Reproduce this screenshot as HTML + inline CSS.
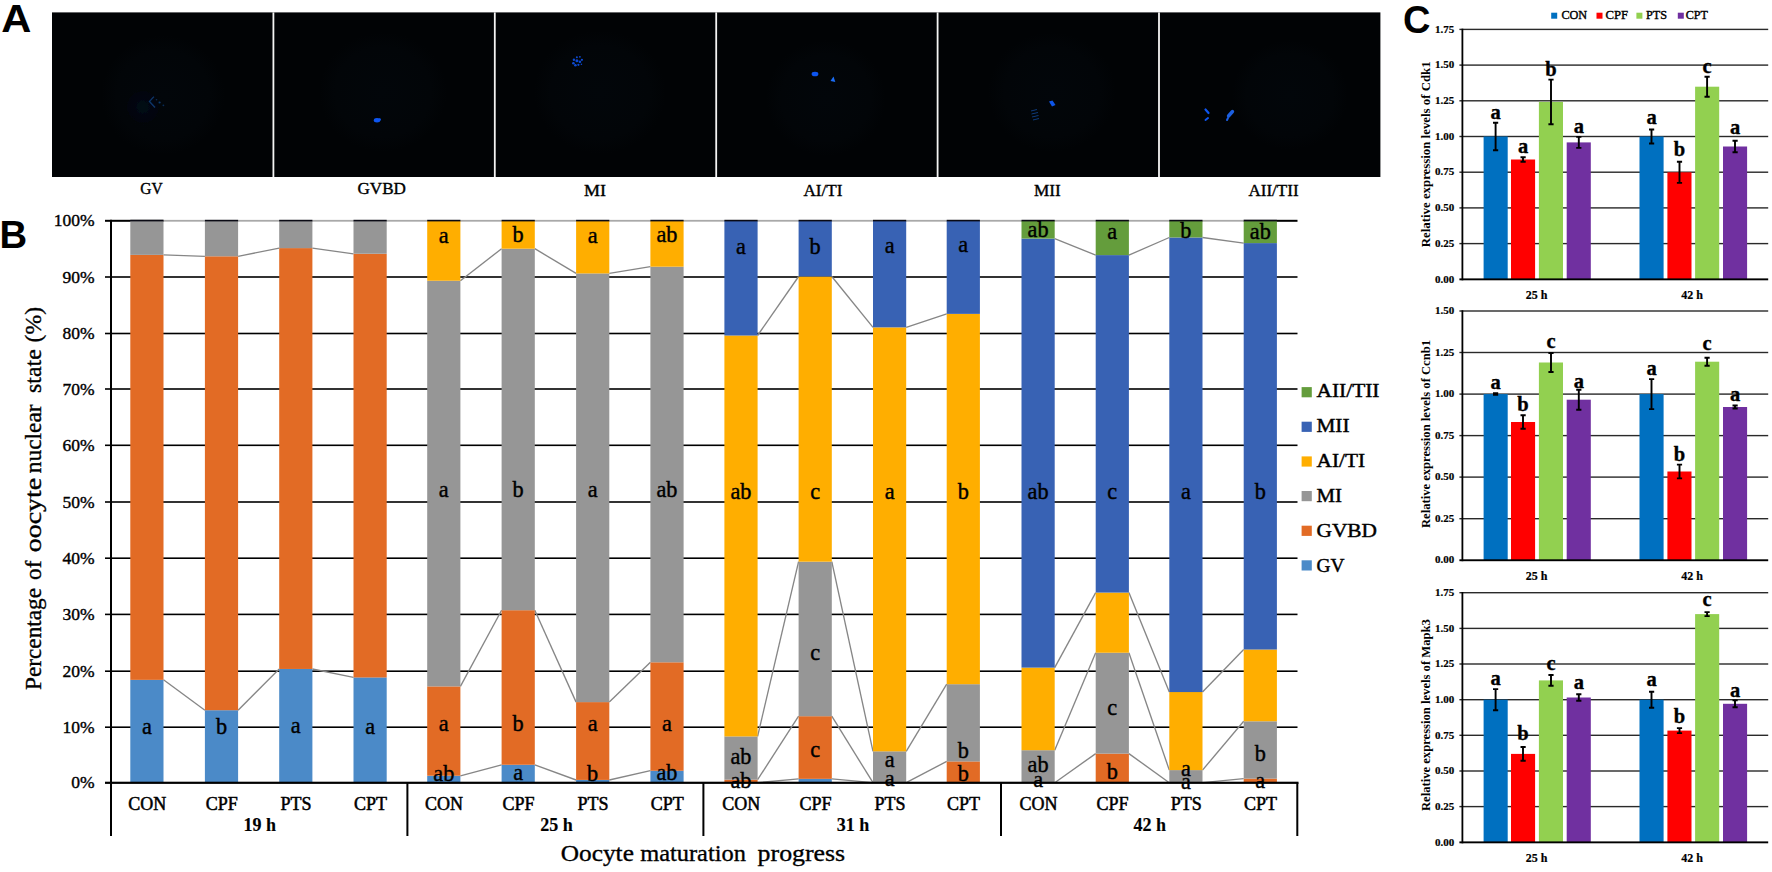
<!DOCTYPE html>
<html><head><meta charset="utf-8"><title>Figure</title>
<style>
html,body{margin:0;padding:0;background:#fff;}
svg{display:block;}
.se{font-family:"Liberation Serif", serif;fill:#000;}
.sa{font-family:"Liberation Sans", sans-serif;fill:#000;}
</style></head><body>
<svg width="1772" height="872" viewBox="0 0 1772 872">
<defs>
<radialGradient id="cell"><stop offset="0" stop-color="#02060a"/><stop offset="0.75" stop-color="#020508"/><stop offset="1" stop-color="#010305"/></radialGradient>
<radialGradient id="glow"><stop offset="0" stop-color="#06142a" stop-opacity="0.4"/><stop offset="1" stop-color="#06142a" stop-opacity="0"/></radialGradient>
<filter id="blur1" x="-20%" y="-20%" width="140%" height="140%"><feGaussianBlur stdDeviation="0.5"/></filter>
</defs>
<rect width="1772" height="872" fill="#fff"/>
<rect x="52" y="12.4" width="1328.4" height="164.6" fill="#010305"/>
<ellipse cx="163" cy="95" rx="62" ry="60" fill="url(#cell)"/>
<ellipse cx="383" cy="92" rx="64" ry="60" fill="url(#cell)"/>
<ellipse cx="600" cy="92" rx="66" ry="62" fill="url(#cell)"/>
<ellipse cx="826" cy="98" rx="60" ry="58" fill="url(#cell)"/>
<ellipse cx="1052" cy="92" rx="64" ry="60" fill="url(#cell)"/>
<ellipse cx="1290" cy="95" rx="58" ry="55" fill="url(#cell)"/>
<rect x="272.5" y="12.4" width="1.8" height="164.6" fill="#f4f4f4"/>
<rect x="493.9" y="12.4" width="1.8" height="164.6" fill="#f4f4f4"/>
<rect x="715.3" y="12.4" width="1.8" height="164.6" fill="#f4f4f4"/>
<rect x="936.7" y="12.4" width="1.8" height="164.6" fill="#f4f4f4"/>
<rect x="1158.1" y="12.4" width="1.8" height="164.6" fill="#f4f4f4"/>
<g filter="url(#blur1)">
<circle cx="143" cy="107" r="20" fill="url(#glow)"/>
<path d="M153.9 96.6 L149.5 101.4 L155 107.5" fill="none" stroke="#0b3468" stroke-width="1.4" filter="url(#blur1)"/>
<circle cx="159.6" cy="102.5" r="1.1" fill="#0d386e"/><circle cx="163.4" cy="105.3" r="0.9" fill="#0a2c58"/><circle cx="156.5" cy="99.8" r="0.8" fill="#0a2c58"/>
<ellipse cx="377" cy="120.3" rx="3.2" ry="2.2" fill="#0d55f0"/>
<circle cx="379.6" cy="119.6" r="1.3" fill="#0d55f0"/>
<circle cx="573.9" cy="59.8" r="1.2" fill="#0f4ad2"/>
<circle cx="576.9" cy="57.3" r="1.0" fill="#0f4ad2"/>
<circle cx="579.9" cy="56.8" r="0.9" fill="#0f4ad2"/>
<circle cx="581.9" cy="59.8" r="1.1" fill="#0f4ad2"/>
<circle cx="573.4" cy="63.3" r="1.3" fill="#0f4ad2"/>
<circle cx="576.9" cy="60.8" r="1.5" fill="#0f4ad2"/>
<circle cx="579.9" cy="61.8" r="1.3" fill="#0f4ad2"/>
<circle cx="575.4" cy="65.3" r="1.3" fill="#0f4ad2"/>
<circle cx="578.4" cy="64.8" r="1.1" fill="#0f4ad2"/>
<circle cx="581.4" cy="64.3" r="0.8" fill="#0f4ad2"/>
<ellipse cx="815" cy="74" rx="3.4" ry="2.3" fill="#0d55f0"/>
<path d="M830.5 81 l3 -4.5 l1.8 5.5 z" fill="#1a6cf5"/>
<path d="M1049 101.5 l3.5 -1 l3 4.5 l-3.5 1.5 z" fill="#0f55e8"/>
<path d="M1031 111 l6 -1.5 M1031.5 114 l6.5 -1.5 M1032 117 l6.5 -1.5 M1033 120 l6 -1.5" stroke="#0f3a7a" stroke-width="1" fill="none"/>
<path d="M1205.5 109.5 l3 3.5" stroke="#0d55f0" stroke-width="2.2" stroke-linecap="round"/>
<path d="M1205.5 120 l2.5 -2" stroke="#0d55f0" stroke-width="2" stroke-linecap="round"/>
<path d="M1228.5 116 l4 -4.5" stroke="#1b5fe0" stroke-width="3.4" stroke-linecap="round"/>
<path d="M1227 120 l1 -2" stroke="#1b5fe0" stroke-width="2" stroke-linecap="round"/>
</g>
<text x="151.4" y="194.0" font-size="17.5" text-anchor="middle" class="se" stroke="#000" stroke-width="0.4" textLength="22.4" lengthAdjust="spacingAndGlyphs">GV</text>
<text x="381.7" y="194.0" font-size="17.5" text-anchor="middle" class="se" stroke="#000" stroke-width="0.4" textLength="48.5" lengthAdjust="spacingAndGlyphs">GVBD</text>
<text x="595.0" y="196.0" font-size="17.5" text-anchor="middle" class="se" stroke="#000" stroke-width="0.4" textLength="22.0" lengthAdjust="spacingAndGlyphs">MI</text>
<text x="823.0" y="196.0" font-size="17.5" text-anchor="middle" class="se" stroke="#000" stroke-width="0.4" textLength="39.0" lengthAdjust="spacingAndGlyphs">AI/TI</text>
<text x="1047.3" y="195.8" font-size="17.5" text-anchor="middle" class="se" stroke="#000" stroke-width="0.4" textLength="26.8" lengthAdjust="spacingAndGlyphs">MII</text>
<text x="1273.5" y="196.2" font-size="17.5" text-anchor="middle" class="se" stroke="#000" stroke-width="0.4" textLength="50.2" lengthAdjust="spacingAndGlyphs">AII/TII</text>
<text transform="translate(1.2,32.4) scale(1.07,1)" font-size="39" font-weight="bold" class="sa">A</text>
<text transform="translate(-0.6,248.2) scale(0.98,1)" font-size="39" font-weight="bold" class="sa">B</text>
<text transform="translate(1402.9,33) scale(1,1)" font-size="38" font-weight="bold" class="sa">C</text>
<rect x="105.0" y="726.4" width="1192.5" height="1.6" fill="#000"/>
<rect x="105.0" y="670.4" width="1192.5" height="1.6" fill="#000"/>
<rect x="105.0" y="613.6" width="1192.5" height="1.6" fill="#000"/>
<rect x="105.0" y="557.4" width="1192.5" height="1.6" fill="#000"/>
<rect x="105.0" y="501.2" width="1192.5" height="1.6" fill="#000"/>
<rect x="105.0" y="444.5" width="1192.5" height="1.6" fill="#000"/>
<rect x="105.0" y="388.2" width="1192.5" height="1.6" fill="#000"/>
<rect x="105.0" y="332.7" width="1192.5" height="1.6" fill="#000"/>
<rect x="105.0" y="276.2" width="1192.5" height="1.6" fill="#000"/>
<rect x="105.0" y="219.8" width="1192.5" height="2" fill="#000"/>
<rect x="163.5" y="219.2" width="1080.2" height="3.2" fill="#fff"/>
<rect x="163.5" y="220.1" width="1080.2" height="1.5" fill="#a0a0a0"/>
<line x1="163.5" y1="679.8" x2="204.9" y2="710.2" stroke="#868686" stroke-width="1.35"/>
<line x1="163.5" y1="254.9" x2="204.9" y2="256.3" stroke="#868686" stroke-width="1.35"/>
<line x1="238.1" y1="710.2" x2="279.2" y2="669.0" stroke="#868686" stroke-width="1.35"/>
<line x1="238.1" y1="256.3" x2="279.2" y2="248.1" stroke="#868686" stroke-width="1.35"/>
<line x1="312.4" y1="669.0" x2="353.5" y2="677.4" stroke="#868686" stroke-width="1.35"/>
<line x1="312.4" y1="248.1" x2="353.5" y2="253.8" stroke="#868686" stroke-width="1.35"/>
<line x1="460.4" y1="775.8" x2="501.6" y2="764.8" stroke="#868686" stroke-width="1.35"/>
<line x1="460.4" y1="686.4" x2="501.6" y2="610.2" stroke="#868686" stroke-width="1.35"/>
<line x1="460.4" y1="280.7" x2="501.6" y2="248.7" stroke="#868686" stroke-width="1.35"/>
<line x1="534.8" y1="764.8" x2="576.1" y2="780.0" stroke="#868686" stroke-width="1.35"/>
<line x1="534.8" y1="610.2" x2="576.1" y2="702.1" stroke="#868686" stroke-width="1.35"/>
<line x1="534.8" y1="248.7" x2="576.1" y2="273.4" stroke="#868686" stroke-width="1.35"/>
<line x1="609.3" y1="780.0" x2="650.4" y2="770.7" stroke="#868686" stroke-width="1.35"/>
<line x1="609.3" y1="702.1" x2="650.4" y2="662.3" stroke="#868686" stroke-width="1.35"/>
<line x1="609.3" y1="273.4" x2="650.4" y2="266.7" stroke="#868686" stroke-width="1.35"/>
<line x1="757.6" y1="782.7" x2="798.6" y2="778.8" stroke="#868686" stroke-width="1.35"/>
<line x1="757.6" y1="779.7" x2="798.6" y2="716.2" stroke="#868686" stroke-width="1.35"/>
<line x1="757.6" y1="736.4" x2="798.6" y2="561.7" stroke="#868686" stroke-width="1.35"/>
<line x1="757.6" y1="335.5" x2="798.6" y2="276.5" stroke="#868686" stroke-width="1.35"/>
<line x1="831.8" y1="778.8" x2="873.0" y2="782.7" stroke="#868686" stroke-width="1.35"/>
<line x1="831.8" y1="716.2" x2="873.0" y2="782.7" stroke="#868686" stroke-width="1.35"/>
<line x1="831.8" y1="561.7" x2="873.0" y2="751.3" stroke="#868686" stroke-width="1.35"/>
<line x1="831.8" y1="276.5" x2="873.0" y2="327.4" stroke="#868686" stroke-width="1.35"/>
<line x1="906.2" y1="782.7" x2="946.7" y2="761.4" stroke="#868686" stroke-width="1.35"/>
<line x1="906.2" y1="751.3" x2="946.7" y2="684.2" stroke="#868686" stroke-width="1.35"/>
<line x1="906.2" y1="327.4" x2="946.7" y2="313.9" stroke="#868686" stroke-width="1.35"/>
<line x1="1054.7" y1="782.7" x2="1095.7" y2="753.6" stroke="#868686" stroke-width="1.35"/>
<line x1="1054.7" y1="750.2" x2="1095.7" y2="652.7" stroke="#868686" stroke-width="1.35"/>
<line x1="1054.7" y1="667.6" x2="1095.7" y2="592.6" stroke="#868686" stroke-width="1.35"/>
<line x1="1054.7" y1="238.6" x2="1095.7" y2="255.1" stroke="#868686" stroke-width="1.35"/>
<line x1="1128.9" y1="753.6" x2="1169.3" y2="782.7" stroke="#868686" stroke-width="1.35"/>
<line x1="1128.9" y1="652.7" x2="1169.3" y2="770.1" stroke="#868686" stroke-width="1.35"/>
<line x1="1128.9" y1="592.6" x2="1169.3" y2="692.0" stroke="#868686" stroke-width="1.35"/>
<line x1="1128.9" y1="255.1" x2="1169.3" y2="237.5" stroke="#868686" stroke-width="1.35"/>
<line x1="1202.5" y1="782.7" x2="1243.7" y2="778.6" stroke="#868686" stroke-width="1.35"/>
<line x1="1202.5" y1="770.1" x2="1243.7" y2="721.3" stroke="#868686" stroke-width="1.35"/>
<line x1="1202.5" y1="692.0" x2="1243.7" y2="649.5" stroke="#868686" stroke-width="1.35"/>
<line x1="1202.5" y1="237.5" x2="1243.7" y2="243.1" stroke="#868686" stroke-width="1.35"/>
<rect x="130.3" y="679.8" width="33.2" height="102.86" fill="#4b8ac8"/>
<rect x="130.3" y="254.9" width="33.2" height="424.96" fill="#e26b25"/>
<rect x="130.3" y="220.8" width="33.2" height="34.08" fill="#969696"/>
<rect x="130.3" y="219.8" width="33.2" height="1.6" fill="#0a0a14"/>
<rect x="204.9" y="710.2" width="33.2" height="72.52" fill="#4b8ac8"/>
<rect x="204.9" y="256.3" width="33.2" height="453.90" fill="#e26b25"/>
<rect x="204.9" y="220.8" width="33.2" height="35.48" fill="#969696"/>
<rect x="204.9" y="219.8" width="33.2" height="1.6" fill="#0a0a14"/>
<rect x="279.2" y="669.0" width="33.2" height="113.70" fill="#4b8ac8"/>
<rect x="279.2" y="248.1" width="33.2" height="420.86" fill="#e26b25"/>
<rect x="279.2" y="220.8" width="33.2" height="27.33" fill="#969696"/>
<rect x="279.2" y="219.8" width="33.2" height="1.6" fill="#0a0a14"/>
<rect x="353.5" y="677.4" width="33.2" height="105.28" fill="#4b8ac8"/>
<rect x="353.5" y="253.8" width="33.2" height="423.67" fill="#e26b25"/>
<rect x="353.5" y="220.8" width="33.2" height="32.95" fill="#969696"/>
<rect x="353.5" y="219.8" width="33.2" height="1.6" fill="#0a0a14"/>
<rect x="427.2" y="775.8" width="33.2" height="6.94" fill="#4b8ac8"/>
<rect x="427.2" y="686.4" width="33.2" height="89.34" fill="#e26b25"/>
<rect x="427.2" y="280.7" width="33.2" height="405.69" fill="#969696"/>
<rect x="427.2" y="220.8" width="33.2" height="59.92" fill="#ffae00"/>
<rect x="427.2" y="219.8" width="33.2" height="1.6" fill="#0a0a14"/>
<rect x="501.6" y="764.8" width="33.2" height="17.90" fill="#4b8ac8"/>
<rect x="501.6" y="610.2" width="33.2" height="154.58" fill="#e26b25"/>
<rect x="501.6" y="248.7" width="33.2" height="361.53" fill="#969696"/>
<rect x="501.6" y="220.8" width="33.2" height="27.90" fill="#ffae00"/>
<rect x="501.6" y="219.8" width="33.2" height="1.6" fill="#0a0a14"/>
<rect x="576.1" y="780.0" width="33.2" height="2.73" fill="#4b8ac8"/>
<rect x="576.1" y="702.1" width="33.2" height="77.82" fill="#e26b25"/>
<rect x="576.1" y="273.4" width="33.2" height="428.73" fill="#969696"/>
<rect x="576.1" y="220.8" width="33.2" height="52.62" fill="#ffae00"/>
<rect x="576.1" y="219.8" width="33.2" height="1.6" fill="#0a0a14"/>
<rect x="650.4" y="770.7" width="33.2" height="12.00" fill="#4b8ac8"/>
<rect x="650.4" y="662.3" width="33.2" height="108.45" fill="#e26b25"/>
<rect x="650.4" y="266.7" width="33.2" height="395.58" fill="#969696"/>
<rect x="650.4" y="220.8" width="33.2" height="45.88" fill="#ffae00"/>
<rect x="650.4" y="219.8" width="33.2" height="1.6" fill="#0a0a14"/>
<rect x="724.4" y="779.7" width="33.2" height="3.01" fill="#e26b25"/>
<rect x="724.4" y="736.4" width="33.2" height="43.27" fill="#969696"/>
<rect x="724.4" y="335.5" width="33.2" height="400.92" fill="#ffae00"/>
<rect x="724.4" y="220.8" width="33.2" height="114.71" fill="#3862b4"/>
<rect x="724.4" y="219.8" width="33.2" height="1.6" fill="#0a0a14"/>
<rect x="798.6" y="778.8" width="33.2" height="3.85" fill="#4b8ac8"/>
<rect x="798.6" y="716.2" width="33.2" height="62.65" fill="#e26b25"/>
<rect x="798.6" y="561.7" width="33.2" height="154.52" fill="#969696"/>
<rect x="798.6" y="276.5" width="33.2" height="285.16" fill="#ffae00"/>
<rect x="798.6" y="220.8" width="33.2" height="55.71" fill="#3862b4"/>
<rect x="798.6" y="219.8" width="33.2" height="1.6" fill="#0a0a14"/>
<rect x="873.0" y="751.3" width="33.2" height="31.39" fill="#969696"/>
<rect x="873.0" y="327.4" width="33.2" height="423.95" fill="#ffae00"/>
<rect x="873.0" y="220.8" width="33.2" height="106.56" fill="#3862b4"/>
<rect x="873.0" y="219.8" width="33.2" height="1.6" fill="#0a0a14"/>
<rect x="946.7" y="761.4" width="33.2" height="21.27" fill="#e26b25"/>
<rect x="946.7" y="684.2" width="33.2" height="77.26" fill="#969696"/>
<rect x="946.7" y="313.9" width="33.2" height="370.29" fill="#ffae00"/>
<rect x="946.7" y="220.8" width="33.2" height="93.08" fill="#3862b4"/>
<rect x="946.7" y="219.8" width="33.2" height="1.6" fill="#0a0a14"/>
<rect x="1021.5" y="750.2" width="33.2" height="32.51" fill="#969696"/>
<rect x="1021.5" y="667.6" width="33.2" height="82.60" fill="#ffae00"/>
<rect x="1021.5" y="238.6" width="33.2" height="429.01" fill="#3862b4"/>
<rect x="1021.5" y="220.8" width="33.2" height="17.78" fill="#649d3c"/>
<rect x="1021.5" y="219.8" width="33.2" height="1.6" fill="#0a0a14"/>
<rect x="1095.7" y="753.6" width="33.2" height="29.08" fill="#e26b25"/>
<rect x="1095.7" y="652.7" width="33.2" height="100.92" fill="#969696"/>
<rect x="1095.7" y="592.6" width="33.2" height="60.12" fill="#ffae00"/>
<rect x="1095.7" y="255.1" width="33.2" height="337.48" fill="#3862b4"/>
<rect x="1095.7" y="220.8" width="33.2" height="34.30" fill="#649d3c"/>
<rect x="1095.7" y="219.8" width="33.2" height="1.6" fill="#0a0a14"/>
<rect x="1169.3" y="770.1" width="33.2" height="12.56" fill="#969696"/>
<rect x="1169.3" y="692.0" width="33.2" height="78.10" fill="#ffae00"/>
<rect x="1169.3" y="237.5" width="33.2" height="454.58" fill="#3862b4"/>
<rect x="1169.3" y="220.8" width="33.2" height="16.66" fill="#649d3c"/>
<rect x="1169.3" y="219.8" width="33.2" height="1.6" fill="#0a0a14"/>
<rect x="1243.7" y="778.6" width="33.2" height="4.13" fill="#e26b25"/>
<rect x="1243.7" y="721.3" width="33.2" height="57.31" fill="#969696"/>
<rect x="1243.7" y="649.5" width="33.2" height="71.75" fill="#ffae00"/>
<rect x="1243.7" y="243.1" width="33.2" height="406.42" fill="#3862b4"/>
<rect x="1243.7" y="220.8" width="33.2" height="22.28" fill="#649d3c"/>
<rect x="1243.7" y="219.8" width="33.2" height="1.6" fill="#0a0a14"/>
<text x="94.5" y="788.3" font-size="17.5" text-anchor="end" class="se" stroke="#000" stroke-width="0.4">0%</text>
<text x="94.5" y="732.8" font-size="17.5" text-anchor="end" class="se" stroke="#000" stroke-width="0.4">10%</text>
<text x="94.5" y="676.8" font-size="17.5" text-anchor="end" class="se" stroke="#000" stroke-width="0.4">20%</text>
<text x="94.5" y="620.0" font-size="17.5" text-anchor="end" class="se" stroke="#000" stroke-width="0.4">30%</text>
<text x="94.5" y="563.8" font-size="17.5" text-anchor="end" class="se" stroke="#000" stroke-width="0.4">40%</text>
<text x="94.5" y="507.6" font-size="17.5" text-anchor="end" class="se" stroke="#000" stroke-width="0.4">50%</text>
<text x="94.5" y="450.9" font-size="17.5" text-anchor="end" class="se" stroke="#000" stroke-width="0.4">60%</text>
<text x="94.5" y="394.6" font-size="17.5" text-anchor="end" class="se" stroke="#000" stroke-width="0.4">70%</text>
<text x="94.5" y="339.1" font-size="17.5" text-anchor="end" class="se" stroke="#000" stroke-width="0.4">80%</text>
<text x="94.5" y="282.6" font-size="17.5" text-anchor="end" class="se" stroke="#000" stroke-width="0.4">90%</text>
<text x="94.5" y="226.4" font-size="17.5" text-anchor="end" class="se" stroke="#000" stroke-width="0.4">100%</text>
<text x="147.2" y="809.5" font-size="18" text-anchor="middle" class="se" stroke="#000" stroke-width="0.5">CON</text>
<text x="221.8" y="809.5" font-size="18" text-anchor="middle" class="se" stroke="#000" stroke-width="0.5">CPF</text>
<text x="296.1" y="809.5" font-size="18" text-anchor="middle" class="se" stroke="#000" stroke-width="0.5">PTS</text>
<text x="370.4" y="809.5" font-size="18" text-anchor="middle" class="se" stroke="#000" stroke-width="0.5">CPT</text>
<text x="444.1" y="809.5" font-size="18" text-anchor="middle" class="se" stroke="#000" stroke-width="0.5">CON</text>
<text x="518.5" y="809.5" font-size="18" text-anchor="middle" class="se" stroke="#000" stroke-width="0.5">CPF</text>
<text x="593.0" y="809.5" font-size="18" text-anchor="middle" class="se" stroke="#000" stroke-width="0.5">PTS</text>
<text x="667.3" y="809.5" font-size="18" text-anchor="middle" class="se" stroke="#000" stroke-width="0.5">CPT</text>
<text x="741.3" y="809.5" font-size="18" text-anchor="middle" class="se" stroke="#000" stroke-width="0.5">CON</text>
<text x="815.5" y="809.5" font-size="18" text-anchor="middle" class="se" stroke="#000" stroke-width="0.5">CPF</text>
<text x="889.9" y="809.5" font-size="18" text-anchor="middle" class="se" stroke="#000" stroke-width="0.5">PTS</text>
<text x="963.6" y="809.5" font-size="18" text-anchor="middle" class="se" stroke="#000" stroke-width="0.5">CPT</text>
<text x="1038.4" y="809.5" font-size="18" text-anchor="middle" class="se" stroke="#000" stroke-width="0.5">CON</text>
<text x="1112.6" y="809.5" font-size="18" text-anchor="middle" class="se" stroke="#000" stroke-width="0.5">CPF</text>
<text x="1186.2" y="809.5" font-size="18" text-anchor="middle" class="se" stroke="#000" stroke-width="0.5">PTS</text>
<text x="1260.6" y="809.5" font-size="18" text-anchor="middle" class="se" stroke="#000" stroke-width="0.5">CPT</text>
<text x="259.8" y="831.0" font-size="18" text-anchor="middle" class="se" font-weight="bold" stroke="#000" stroke-width="0.15">19 h</text>
<text x="556.4" y="831.0" font-size="18" text-anchor="middle" class="se" font-weight="bold" stroke="#000" stroke-width="0.15">25 h</text>
<text x="853.1" y="831.0" font-size="18" text-anchor="middle" class="se" font-weight="bold" stroke="#000" stroke-width="0.15">31 h</text>
<text x="1149.7" y="831.0" font-size="18" text-anchor="middle" class="se" font-weight="bold" stroke="#000" stroke-width="0.15">42 h</text>
<text y="861.3" font-size="24" class="se" stroke="#000" stroke-width="0.35"><tspan x="560.8" textLength="73.1" lengthAdjust="spacingAndGlyphs">Oocyte</tspan> <tspan x="640.2" textLength="105.7" lengthAdjust="spacingAndGlyphs">maturation</tspan> <tspan x="757.6" textLength="87.6" lengthAdjust="spacingAndGlyphs">progress</tspan></text>
<text transform="translate(40.8,690) rotate(-90)" y="0" font-size="24" class="se" stroke="#000" stroke-width="0.35"><tspan x="0" textLength="102.1" lengthAdjust="spacingAndGlyphs">Percentage</tspan> <tspan x="110.1" textLength="19.5" lengthAdjust="spacingAndGlyphs">of</tspan> <tspan x="137.7" textLength="74.5" lengthAdjust="spacingAndGlyphs">oocyte</tspan> <tspan x="216.8" textLength="68.8" lengthAdjust="spacingAndGlyphs">nuclear</tspan> <tspan x="297.1" textLength="43.6" lengthAdjust="spacingAndGlyphs">state</tspan> <tspan x="347.6" textLength="35.5" lengthAdjust="spacingAndGlyphs">(%)</tspan></text>
<text x="146.9" y="733.5" font-size="22.3" text-anchor="middle" class="se" stroke="#000" stroke-width="0.4">a</text>
<text x="221.5" y="733.5" font-size="22.3" text-anchor="middle" class="se" stroke="#000" stroke-width="0.4">b</text>
<text x="295.8" y="732.5" font-size="22.3" text-anchor="middle" class="se" stroke="#000" stroke-width="0.4">a</text>
<text x="370.1" y="733.5" font-size="22.3" text-anchor="middle" class="se" stroke="#000" stroke-width="0.4">a</text>
<text x="443.8" y="243.4" font-size="22.3" text-anchor="middle" class="se" stroke="#000" stroke-width="0.4">a</text>
<text x="518.2" y="242.1" font-size="22.3" text-anchor="middle" class="se" stroke="#000" stroke-width="0.4">b</text>
<text x="592.7" y="243.4" font-size="22.3" text-anchor="middle" class="se" stroke="#000" stroke-width="0.4">a</text>
<text x="667.0" y="241.5" font-size="22.3" text-anchor="middle" class="se" stroke="#000" stroke-width="0.4">ab</text>
<text x="443.8" y="496.9" font-size="22.3" text-anchor="middle" class="se" stroke="#000" stroke-width="0.4">a</text>
<text x="518.2" y="496.9" font-size="22.3" text-anchor="middle" class="se" stroke="#000" stroke-width="0.4">b</text>
<text x="592.7" y="496.9" font-size="22.3" text-anchor="middle" class="se" stroke="#000" stroke-width="0.4">a</text>
<text x="667.0" y="496.9" font-size="22.3" text-anchor="middle" class="se" stroke="#000" stroke-width="0.4">ab</text>
<text x="443.8" y="730.5" font-size="22.3" text-anchor="middle" class="se" stroke="#000" stroke-width="0.4">a</text>
<text x="518.2" y="730.5" font-size="22.3" text-anchor="middle" class="se" stroke="#000" stroke-width="0.4">b</text>
<text x="592.7" y="730.5" font-size="22.3" text-anchor="middle" class="se" stroke="#000" stroke-width="0.4">a</text>
<text x="667.0" y="730.5" font-size="22.3" text-anchor="middle" class="se" stroke="#000" stroke-width="0.4">a</text>
<text x="443.8" y="781.4" font-size="22.3" text-anchor="middle" class="se" stroke="#000" stroke-width="0.4">ab</text>
<text x="518.2" y="779.8" font-size="22.3" text-anchor="middle" class="se" stroke="#000" stroke-width="0.4">a</text>
<text x="592.7" y="780.9" font-size="22.3" text-anchor="middle" class="se" stroke="#000" stroke-width="0.4">b</text>
<text x="667.0" y="780.0" font-size="22.3" text-anchor="middle" class="se" stroke="#000" stroke-width="0.4">ab</text>
<text x="741.0" y="253.6" font-size="22.3" text-anchor="middle" class="se" stroke="#000" stroke-width="0.4">a</text>
<text x="815.2" y="253.6" font-size="22.3" text-anchor="middle" class="se" stroke="#000" stroke-width="0.4">b</text>
<text x="889.6" y="252.9" font-size="22.3" text-anchor="middle" class="se" stroke="#000" stroke-width="0.4">a</text>
<text x="963.3" y="251.8" font-size="22.3" text-anchor="middle" class="se" stroke="#000" stroke-width="0.4">a</text>
<text x="741.0" y="498.9" font-size="22.3" text-anchor="middle" class="se" stroke="#000" stroke-width="0.4">ab</text>
<text x="815.2" y="498.9" font-size="22.3" text-anchor="middle" class="se" stroke="#000" stroke-width="0.4">c</text>
<text x="889.6" y="498.9" font-size="22.3" text-anchor="middle" class="se" stroke="#000" stroke-width="0.4">a</text>
<text x="963.3" y="498.9" font-size="22.3" text-anchor="middle" class="se" stroke="#000" stroke-width="0.4">b</text>
<text x="741.0" y="763.6" font-size="22.3" text-anchor="middle" class="se" stroke="#000" stroke-width="0.4">ab</text>
<text x="741.0" y="787.7" font-size="22.3" text-anchor="middle" class="se" stroke="#000" stroke-width="0.4">ab</text>
<text x="815.2" y="659.5" font-size="22.3" text-anchor="middle" class="se" stroke="#000" stroke-width="0.4">c</text>
<text x="815.2" y="757.0" font-size="22.3" text-anchor="middle" class="se" stroke="#000" stroke-width="0.4">c</text>
<text x="889.6" y="766.5" font-size="22.3" text-anchor="middle" class="se" stroke="#000" stroke-width="0.4">a</text>
<text x="889.6" y="785.7" font-size="22.3" text-anchor="middle" class="se" stroke="#000" stroke-width="0.4">a</text>
<text x="963.3" y="758.4" font-size="22.3" text-anchor="middle" class="se" stroke="#000" stroke-width="0.4">b</text>
<text x="963.3" y="780.8" font-size="22.3" text-anchor="middle" class="se" stroke="#000" stroke-width="0.4">b</text>
<text x="1038.1" y="237.2" font-size="22.3" text-anchor="middle" class="se" stroke="#000" stroke-width="0.4">ab</text>
<text x="1112.3" y="239.0" font-size="22.3" text-anchor="middle" class="se" stroke="#000" stroke-width="0.4">a</text>
<text x="1185.9" y="237.6" font-size="22.3" text-anchor="middle" class="se" stroke="#000" stroke-width="0.4">b</text>
<text x="1260.3" y="239.4" font-size="22.3" text-anchor="middle" class="se" stroke="#000" stroke-width="0.4">ab</text>
<text x="1038.1" y="498.9" font-size="22.3" text-anchor="middle" class="se" stroke="#000" stroke-width="0.4">ab</text>
<text x="1112.3" y="498.9" font-size="22.3" text-anchor="middle" class="se" stroke="#000" stroke-width="0.4">c</text>
<text x="1185.9" y="498.9" font-size="22.3" text-anchor="middle" class="se" stroke="#000" stroke-width="0.4">a</text>
<text x="1260.3" y="498.9" font-size="22.3" text-anchor="middle" class="se" stroke="#000" stroke-width="0.4">b</text>
<text x="1038.1" y="772.2" font-size="22.3" text-anchor="middle" class="se" stroke="#000" stroke-width="0.4">ab</text>
<text x="1038.1" y="787.1" font-size="22.3" text-anchor="middle" class="se" stroke="#000" stroke-width="0.4">a</text>
<text x="1112.3" y="714.5" font-size="22.3" text-anchor="middle" class="se" stroke="#000" stroke-width="0.4">c</text>
<text x="1112.3" y="778.5" font-size="22.3" text-anchor="middle" class="se" stroke="#000" stroke-width="0.4">b</text>
<text x="1185.9" y="776.2" font-size="22.3" text-anchor="middle" class="se" stroke="#000" stroke-width="0.4">a</text>
<text x="1185.9" y="788.5" font-size="22.3" text-anchor="middle" class="se" stroke="#000" stroke-width="0.4">a</text>
<text x="1260.3" y="760.7" font-size="22.3" text-anchor="middle" class="se" stroke="#000" stroke-width="0.4">b</text>
<text x="1260.3" y="787.7" font-size="22.3" text-anchor="middle" class="se" stroke="#000" stroke-width="0.4">a</text>
<rect x="110.0" y="219.8" width="2" height="616.2" fill="#000"/>
<rect x="105.0" y="781.7" width="1193.5" height="2.2" fill="#000"/>
<rect x="406.4" y="782.7" width="2" height="53.3" fill="#000"/>
<rect x="702.4" y="782.7" width="2" height="53.3" fill="#000"/>
<rect x="1000.0" y="782.7" width="2" height="53.3" fill="#000"/>
<rect x="1296.3" y="782.7" width="2" height="53.3" fill="#000"/>
<rect x="1301.6" y="387.1" width="10.2" height="10.2" fill="#649d3c"/>
<text x="1316.5" y="396.6" font-size="19.5" text-anchor="start" class="se" stroke="#000" stroke-width="0.45" textLength="63.0" lengthAdjust="spacingAndGlyphs">AII/TII</text>
<rect x="1301.6" y="421.7" width="10.2" height="10.2" fill="#3862b4"/>
<text x="1316.5" y="431.6" font-size="19.5" text-anchor="start" class="se" stroke="#000" stroke-width="0.45" textLength="33.0" lengthAdjust="spacingAndGlyphs">MII</text>
<rect x="1301.6" y="456.4" width="10.2" height="10.2" fill="#ffae00"/>
<text x="1316.5" y="466.6" font-size="19.5" text-anchor="start" class="se" stroke="#000" stroke-width="0.45" textLength="48.5" lengthAdjust="spacingAndGlyphs">AI/TI</text>
<rect x="1301.6" y="491.0" width="10.2" height="10.2" fill="#969696"/>
<text x="1316.5" y="501.6" font-size="19.5" text-anchor="start" class="se" stroke="#000" stroke-width="0.45" textLength="25.5" lengthAdjust="spacingAndGlyphs">MI</text>
<rect x="1301.6" y="525.7" width="10.2" height="10.2" fill="#e26b25"/>
<text x="1316.5" y="536.6" font-size="19.5" text-anchor="start" class="se" stroke="#000" stroke-width="0.45" textLength="60.5" lengthAdjust="spacingAndGlyphs">GVBD</text>
<rect x="1301.6" y="560.3" width="10.2" height="10.2" fill="#4b8ac8"/>
<text x="1316.5" y="571.6" font-size="19.5" text-anchor="start" class="se" stroke="#000" stroke-width="0.45" textLength="28.0" lengthAdjust="spacingAndGlyphs">GV</text>
<rect x="1459.4" y="242.9" width="308.8" height="1.4" fill="#2a2a2a"/>
<rect x="1459.4" y="207.2" width="308.8" height="1.4" fill="#2a2a2a"/>
<rect x="1459.4" y="171.5" width="308.8" height="1.4" fill="#2a2a2a"/>
<rect x="1459.4" y="135.8" width="308.8" height="1.4" fill="#2a2a2a"/>
<rect x="1459.4" y="100.1" width="308.8" height="1.4" fill="#2a2a2a"/>
<rect x="1459.4" y="64.4" width="308.8" height="1.4" fill="#2a2a2a"/>
<rect x="1459.4" y="28.7" width="308.8" height="1.4" fill="#2a2a2a"/>
<rect x="1483.6" y="136.5" width="24.1" height="142.8" fill="#0070c0"/>
<rect x="1511.0" y="159.5" width="24.1" height="119.8" fill="#ff0000"/>
<rect x="1538.9" y="101.9" width="24.1" height="177.4" fill="#92d050"/>
<rect x="1566.7" y="142.4" width="24.1" height="136.9" fill="#7030a0"/>
<rect x="1639.5" y="136.5" width="24.1" height="142.8" fill="#0070c0"/>
<rect x="1667.4" y="172.3" width="24.1" height="107.0" fill="#ff0000"/>
<rect x="1695.1" y="86.7" width="24.1" height="192.6" fill="#92d050"/>
<rect x="1723.0" y="146.5" width="24.1" height="132.8" fill="#7030a0"/>
<rect x="1461.5" y="28.7" width="1.8" height="251.6" fill="#000"/>
<rect x="1459.4" y="278.4" width="308.8" height="1.9" fill="#000"/>
<path d="M1495.6 122.8V150.2M1493.0 122.8h5.2M1493.0 150.2h5.2" stroke="#000" stroke-width="1.9" fill="none"/>
<text x="1495.6" y="118.7" font-size="20.5" text-anchor="middle" class="se" font-weight="bold" stroke="#000" stroke-width="0.35">a</text>
<path d="M1523.0 157.2V161.8M1520.5 157.2h5.2M1520.5 161.8h5.2" stroke="#000" stroke-width="1.9" fill="none"/>
<text x="1523.0" y="152.7" font-size="20.5" text-anchor="middle" class="se" font-weight="bold" stroke="#000" stroke-width="0.35">a</text>
<path d="M1551.0 79.6V124.2M1548.4 79.6h5.2M1548.4 124.2h5.2" stroke="#000" stroke-width="1.9" fill="none"/>
<text x="1551.0" y="75.7" font-size="20.5" text-anchor="middle" class="se" font-weight="bold" stroke="#000" stroke-width="0.35">b</text>
<path d="M1578.8 136.9V147.9M1576.2 136.9h5.2M1576.2 147.9h5.2" stroke="#000" stroke-width="1.9" fill="none"/>
<text x="1578.8" y="132.5" font-size="20.5" text-anchor="middle" class="se" font-weight="bold" stroke="#000" stroke-width="0.35">a</text>
<path d="M1651.5 129.5V143.5M1649.0 129.5h5.2M1649.0 143.5h5.2" stroke="#000" stroke-width="1.9" fill="none"/>
<text x="1651.5" y="124.2" font-size="20.5" text-anchor="middle" class="se" font-weight="bold" stroke="#000" stroke-width="0.35">a</text>
<path d="M1679.5 161.7V182.9M1676.9 161.7h5.2M1676.9 182.9h5.2" stroke="#000" stroke-width="1.9" fill="none"/>
<text x="1679.5" y="155.8" font-size="20.5" text-anchor="middle" class="se" font-weight="bold" stroke="#000" stroke-width="0.35">b</text>
<path d="M1707.1 76.7V96.7M1704.5 76.7h5.2M1704.5 96.7h5.2" stroke="#000" stroke-width="1.9" fill="none"/>
<text x="1707.1" y="72.6" font-size="20.5" text-anchor="middle" class="se" font-weight="bold" stroke="#000" stroke-width="0.35">c</text>
<path d="M1735.0 140.8V152.2M1732.5 140.8h5.2M1732.5 152.2h5.2" stroke="#000" stroke-width="1.9" fill="none"/>
<text x="1735.0" y="133.5" font-size="20.5" text-anchor="middle" class="se" font-weight="bold" stroke="#000" stroke-width="0.35">a</text>
<text x="1454.2" y="282.5" font-size="11" text-anchor="end" class="se" font-weight="bold" stroke="#000" stroke-width="0.2">0.00</text>
<text x="1454.2" y="246.8" font-size="11" text-anchor="end" class="se" font-weight="bold" stroke="#000" stroke-width="0.2">0.25</text>
<text x="1454.2" y="211.1" font-size="11" text-anchor="end" class="se" font-weight="bold" stroke="#000" stroke-width="0.2">0.50</text>
<text x="1454.2" y="175.4" font-size="11" text-anchor="end" class="se" font-weight="bold" stroke="#000" stroke-width="0.2">0.75</text>
<text x="1454.2" y="139.7" font-size="11" text-anchor="end" class="se" font-weight="bold" stroke="#000" stroke-width="0.2">1.00</text>
<text x="1454.2" y="104.0" font-size="11" text-anchor="end" class="se" font-weight="bold" stroke="#000" stroke-width="0.2">1.25</text>
<text x="1454.2" y="68.3" font-size="11" text-anchor="end" class="se" font-weight="bold" stroke="#000" stroke-width="0.2">1.50</text>
<text x="1454.2" y="32.6" font-size="11" text-anchor="end" class="se" font-weight="bold" stroke="#000" stroke-width="0.2">1.75</text>
<text x="1536.5" y="298.7" font-size="12" text-anchor="middle" class="se" font-weight="bold" stroke="#000" stroke-width="0.2">25 h</text>
<text x="1692.0" y="298.7" font-size="12" text-anchor="middle" class="se" font-weight="bold" stroke="#000" stroke-width="0.2">42 h</text>
<text transform="translate(1430.3,154.3) rotate(-90)" font-size="13" font-weight="bold" text-anchor="middle" class="se" textLength="185.8" lengthAdjust="spacingAndGlyphs">Relative expression levels of Cdk1</text>
<rect x="1459.4" y="518.0" width="308.8" height="1.4" fill="#2a2a2a"/>
<rect x="1459.4" y="476.4" width="308.8" height="1.4" fill="#2a2a2a"/>
<rect x="1459.4" y="434.9" width="308.8" height="1.4" fill="#2a2a2a"/>
<rect x="1459.4" y="393.4" width="308.8" height="1.4" fill="#2a2a2a"/>
<rect x="1459.4" y="351.8" width="308.8" height="1.4" fill="#2a2a2a"/>
<rect x="1459.4" y="310.3" width="308.8" height="1.4" fill="#2a2a2a"/>
<rect x="1483.6" y="394.1" width="24.1" height="166.1" fill="#0070c0"/>
<rect x="1511.0" y="422.0" width="24.1" height="138.2" fill="#ff0000"/>
<rect x="1538.9" y="362.5" width="24.1" height="197.7" fill="#92d050"/>
<rect x="1566.7" y="399.7" width="24.1" height="160.5" fill="#7030a0"/>
<rect x="1639.5" y="394.1" width="24.1" height="166.1" fill="#0070c0"/>
<rect x="1667.4" y="471.5" width="24.1" height="88.7" fill="#ff0000"/>
<rect x="1695.1" y="361.7" width="24.1" height="198.5" fill="#92d050"/>
<rect x="1723.0" y="407.0" width="24.1" height="153.2" fill="#7030a0"/>
<rect x="1461.5" y="310.3" width="1.8" height="250.9" fill="#000"/>
<rect x="1459.4" y="559.3" width="308.8" height="1.9" fill="#000"/>
<path d="M1495.6 393.3V394.9M1493.0 393.3h5.2M1493.0 394.9h5.2" stroke="#000" stroke-width="1.9" fill="none"/>
<text x="1495.6" y="388.7" font-size="20.5" text-anchor="middle" class="se" font-weight="bold" stroke="#000" stroke-width="0.35">a</text>
<path d="M1523.0 415.3V428.7M1520.5 415.3h5.2M1520.5 428.7h5.2" stroke="#000" stroke-width="1.9" fill="none"/>
<text x="1523.0" y="410.8" font-size="20.5" text-anchor="middle" class="se" font-weight="bold" stroke="#000" stroke-width="0.35">b</text>
<path d="M1551.0 353.0V372.0M1548.4 353.0h5.2M1548.4 372.0h5.2" stroke="#000" stroke-width="1.9" fill="none"/>
<text x="1551.0" y="348.3" font-size="20.5" text-anchor="middle" class="se" font-weight="bold" stroke="#000" stroke-width="0.35">c</text>
<path d="M1578.8 389.7V409.7M1576.2 389.7h5.2M1576.2 409.7h5.2" stroke="#000" stroke-width="1.9" fill="none"/>
<text x="1578.8" y="387.5" font-size="20.5" text-anchor="middle" class="se" font-weight="bold" stroke="#000" stroke-width="0.35">a</text>
<path d="M1651.5 379.1V409.1M1649.0 379.1h5.2M1649.0 409.1h5.2" stroke="#000" stroke-width="1.9" fill="none"/>
<text x="1651.5" y="375.1" font-size="20.5" text-anchor="middle" class="se" font-weight="bold" stroke="#000" stroke-width="0.35">a</text>
<path d="M1679.5 464.6V478.4M1676.9 464.6h5.2M1676.9 478.4h5.2" stroke="#000" stroke-width="1.9" fill="none"/>
<text x="1679.5" y="461.0" font-size="20.5" text-anchor="middle" class="se" font-weight="bold" stroke="#000" stroke-width="0.35">b</text>
<path d="M1707.1 357.7V365.7M1704.5 357.7h5.2M1704.5 365.7h5.2" stroke="#000" stroke-width="1.9" fill="none"/>
<text x="1707.1" y="349.9" font-size="20.5" text-anchor="middle" class="se" font-weight="bold" stroke="#000" stroke-width="0.35">c</text>
<path d="M1735.0 405.5V408.5M1732.5 405.5h5.2M1732.5 408.5h5.2" stroke="#000" stroke-width="1.9" fill="none"/>
<text x="1735.0" y="400.5" font-size="20.5" text-anchor="middle" class="se" font-weight="bold" stroke="#000" stroke-width="0.35">a</text>
<text x="1454.2" y="563.4" font-size="11" text-anchor="end" class="se" font-weight="bold" stroke="#000" stroke-width="0.2">0.00</text>
<text x="1454.2" y="521.9" font-size="11" text-anchor="end" class="se" font-weight="bold" stroke="#000" stroke-width="0.2">0.25</text>
<text x="1454.2" y="480.3" font-size="11" text-anchor="end" class="se" font-weight="bold" stroke="#000" stroke-width="0.2">0.50</text>
<text x="1454.2" y="438.8" font-size="11" text-anchor="end" class="se" font-weight="bold" stroke="#000" stroke-width="0.2">0.75</text>
<text x="1454.2" y="397.3" font-size="11" text-anchor="end" class="se" font-weight="bold" stroke="#000" stroke-width="0.2">1.00</text>
<text x="1454.2" y="355.7" font-size="11" text-anchor="end" class="se" font-weight="bold" stroke="#000" stroke-width="0.2">1.25</text>
<text x="1454.2" y="314.2" font-size="11" text-anchor="end" class="se" font-weight="bold" stroke="#000" stroke-width="0.2">1.50</text>
<text x="1536.5" y="579.6" font-size="12" text-anchor="middle" class="se" font-weight="bold" stroke="#000" stroke-width="0.2">25 h</text>
<text x="1692.0" y="579.6" font-size="12" text-anchor="middle" class="se" font-weight="bold" stroke="#000" stroke-width="0.2">42 h</text>
<text transform="translate(1430.3,434) rotate(-90)" font-size="13" font-weight="bold" text-anchor="middle" class="se" textLength="188" lengthAdjust="spacingAndGlyphs">Relative expression levels of Ccnb1</text>
<rect x="1459.4" y="805.9" width="308.8" height="1.4" fill="#2a2a2a"/>
<rect x="1459.4" y="770.3" width="308.8" height="1.4" fill="#2a2a2a"/>
<rect x="1459.4" y="734.6" width="308.8" height="1.4" fill="#2a2a2a"/>
<rect x="1459.4" y="699.0" width="308.8" height="1.4" fill="#2a2a2a"/>
<rect x="1459.4" y="663.3" width="308.8" height="1.4" fill="#2a2a2a"/>
<rect x="1459.4" y="627.7" width="308.8" height="1.4" fill="#2a2a2a"/>
<rect x="1459.4" y="592.0" width="308.8" height="1.4" fill="#2a2a2a"/>
<rect x="1483.6" y="699.7" width="24.1" height="142.6" fill="#0070c0"/>
<rect x="1511.0" y="753.9" width="24.1" height="88.4" fill="#ff0000"/>
<rect x="1538.9" y="680.4" width="24.1" height="161.9" fill="#92d050"/>
<rect x="1566.7" y="697.5" width="24.1" height="144.8" fill="#7030a0"/>
<rect x="1639.5" y="699.7" width="24.1" height="142.6" fill="#0070c0"/>
<rect x="1667.4" y="730.6" width="24.1" height="111.7" fill="#ff0000"/>
<rect x="1695.1" y="614.1" width="24.1" height="228.2" fill="#92d050"/>
<rect x="1723.0" y="703.8" width="24.1" height="138.5" fill="#7030a0"/>
<rect x="1461.5" y="592.0" width="1.8" height="251.3" fill="#000"/>
<rect x="1459.4" y="841.4" width="308.8" height="1.9" fill="#000"/>
<path d="M1495.6 689.1V710.3M1493.0 689.1h5.2M1493.0 710.3h5.2" stroke="#000" stroke-width="1.9" fill="none"/>
<text x="1495.6" y="684.5" font-size="20.5" text-anchor="middle" class="se" font-weight="bold" stroke="#000" stroke-width="0.35">a</text>
<path d="M1523.0 747.0V760.8M1520.5 747.0h5.2M1520.5 760.8h5.2" stroke="#000" stroke-width="1.9" fill="none"/>
<text x="1523.0" y="740.2" font-size="20.5" text-anchor="middle" class="se" font-weight="bold" stroke="#000" stroke-width="0.35">b</text>
<path d="M1551.0 675.0V685.8M1548.4 675.0h5.2M1548.4 685.8h5.2" stroke="#000" stroke-width="1.9" fill="none"/>
<text x="1551.0" y="669.6" font-size="20.5" text-anchor="middle" class="se" font-weight="bold" stroke="#000" stroke-width="0.35">c</text>
<path d="M1578.8 694.2V700.8M1576.2 694.2h5.2M1576.2 700.8h5.2" stroke="#000" stroke-width="1.9" fill="none"/>
<text x="1578.8" y="688.6" font-size="20.5" text-anchor="middle" class="se" font-weight="bold" stroke="#000" stroke-width="0.35">a</text>
<path d="M1651.5 691.7V707.7M1649.0 691.7h5.2M1649.0 707.7h5.2" stroke="#000" stroke-width="1.9" fill="none"/>
<text x="1651.5" y="686.1" font-size="20.5" text-anchor="middle" class="se" font-weight="bold" stroke="#000" stroke-width="0.35">a</text>
<path d="M1679.5 728.1V733.1M1676.9 728.1h5.2M1676.9 733.1h5.2" stroke="#000" stroke-width="1.9" fill="none"/>
<text x="1679.5" y="722.9" font-size="20.5" text-anchor="middle" class="se" font-weight="bold" stroke="#000" stroke-width="0.35">b</text>
<path d="M1707.1 612.1V616.1M1704.5 612.1h5.2M1704.5 616.1h5.2" stroke="#000" stroke-width="1.9" fill="none"/>
<text x="1707.1" y="605.6" font-size="20.5" text-anchor="middle" class="se" font-weight="bold" stroke="#000" stroke-width="0.35">c</text>
<path d="M1735.0 700.4V707.2M1732.5 700.4h5.2M1732.5 707.2h5.2" stroke="#000" stroke-width="1.9" fill="none"/>
<text x="1735.0" y="696.5" font-size="20.5" text-anchor="middle" class="se" font-weight="bold" stroke="#000" stroke-width="0.35">a</text>
<text x="1454.2" y="845.5" font-size="11" text-anchor="end" class="se" font-weight="bold" stroke="#000" stroke-width="0.2">0.00</text>
<text x="1454.2" y="809.8" font-size="11" text-anchor="end" class="se" font-weight="bold" stroke="#000" stroke-width="0.2">0.25</text>
<text x="1454.2" y="774.2" font-size="11" text-anchor="end" class="se" font-weight="bold" stroke="#000" stroke-width="0.2">0.50</text>
<text x="1454.2" y="738.5" font-size="11" text-anchor="end" class="se" font-weight="bold" stroke="#000" stroke-width="0.2">0.75</text>
<text x="1454.2" y="702.9" font-size="11" text-anchor="end" class="se" font-weight="bold" stroke="#000" stroke-width="0.2">1.00</text>
<text x="1454.2" y="667.2" font-size="11" text-anchor="end" class="se" font-weight="bold" stroke="#000" stroke-width="0.2">1.25</text>
<text x="1454.2" y="631.6" font-size="11" text-anchor="end" class="se" font-weight="bold" stroke="#000" stroke-width="0.2">1.50</text>
<text x="1454.2" y="595.9" font-size="11" text-anchor="end" class="se" font-weight="bold" stroke="#000" stroke-width="0.2">1.75</text>
<text x="1536.5" y="861.7" font-size="12" text-anchor="middle" class="se" font-weight="bold" stroke="#000" stroke-width="0.2">25 h</text>
<text x="1692.0" y="861.7" font-size="12" text-anchor="middle" class="se" font-weight="bold" stroke="#000" stroke-width="0.2">42 h</text>
<text transform="translate(1430.3,715.1) rotate(-90)" font-size="13" font-weight="bold" text-anchor="middle" class="se" textLength="192" lengthAdjust="spacingAndGlyphs">Relative expression levels of Mapk3</text>
<rect x="1551.2" y="12.7" width="6" height="6" fill="#0070c0"/>
<text x="1561.4" y="19.4" font-size="13" text-anchor="start" class="se" stroke="#000" stroke-width="0.4" textLength="25.8" lengthAdjust="spacingAndGlyphs">CON</text>
<rect x="1596.5" y="12.7" width="6" height="6" fill="#ff0000"/>
<text x="1605.6" y="19.4" font-size="13" text-anchor="start" class="se" stroke="#000" stroke-width="0.4" textLength="22.6" lengthAdjust="spacingAndGlyphs">CPF</text>
<rect x="1636.4" y="12.7" width="6" height="6" fill="#92d050"/>
<text x="1645.9" y="19.4" font-size="13" text-anchor="start" class="se" stroke="#000" stroke-width="0.4" textLength="21.1" lengthAdjust="spacingAndGlyphs">PTS</text>
<rect x="1677.8" y="12.7" width="6" height="6" fill="#7030a0"/>
<text x="1685.8" y="19.4" font-size="13" text-anchor="start" class="se" stroke="#000" stroke-width="0.4" textLength="22.2" lengthAdjust="spacingAndGlyphs">CPT</text>
</svg>
</body></html>
